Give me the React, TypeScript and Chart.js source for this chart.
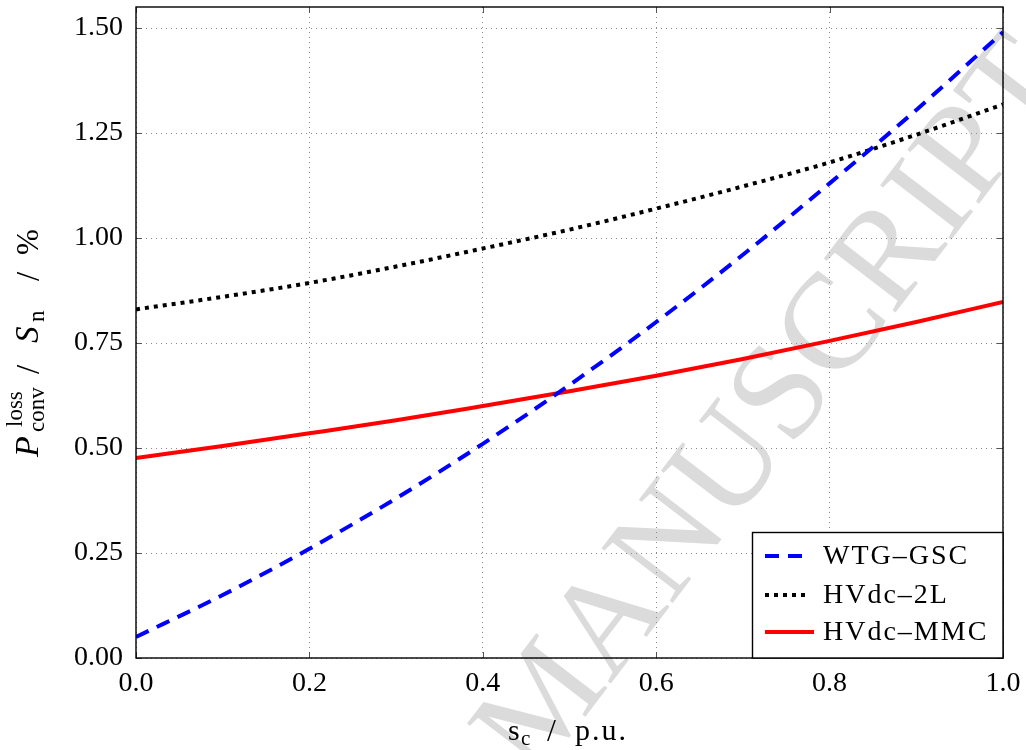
import React, { useEffect, useRef } from "react";
import { Chart, registerables } from "chart.js";

Chart.register(...registerables);

const xValues = [0, 0.1, 0.2, 0.3, 0.4, 0.5, 0.6, 0.7, 0.8, 0.9, 1.0];
const wtgGsc = [0.05, 0.15, 0.26, 0.38, 0.51, 0.65, 0.8, 0.96, 1.13, 1.305, 1.49];
const hvdc2L = [0.83, 0.86, 0.893, 0.932, 0.975, 1.02, 1.07, 1.123, 1.18, 1.246, 1.318];
const hvdcMmc = [0.476, 0.505, 0.535, 0.566, 0.6, 0.635, 0.672, 0.712, 0.755, 0.8, 0.848];
const seriesNames = ["WTG–GSC", "HVdc–2L", "HVdc–MMC"];
const xTickStep = 0.2;
const yTickStep = 0.25;

const FONT = '"Liberation Serif", "Times New Roman", serif';

const toPts = (ys: number[]) => ys.map((y, i) => ({ x: xValues[i], y }));

const decorPlugin = {
  id: "decor",
  beforeDraw(chart: any) {
    const ctx = chart.ctx;
    ctx.save();
    ctx.fillStyle = "#ffffff";
    ctx.fillRect(0, 0, chart.width, chart.height);
    // watermark
    ctx.translate(776, 409);
    ctx.rotate((-52.5 * Math.PI) / 180);
    ctx.fillStyle = "rgb(219,219,219)";
    ctx.font = `137px ${FONT}`;
    ctx.textAlign = "center";
    ctx.textBaseline = "middle";
    ctx.fillText("MANUSCRIPT", 0, 0);
    ctx.restore();
  },
  afterDatasetsDraw(chart: any) {
    const ctx = chart.ctx;
    const a = chart.chartArea;
    const xs = chart.scales.x;
    const ys = chart.scales.y;
    ctx.save();
    // inner tick marks
    ctx.strokeStyle = "#555";
    ctx.lineWidth = 1;
    ctx.beginPath();
    xs.ticks.forEach((t: any) => {
      const px = Math.round(xs.getPixelForValue(t.value)) + 0.5;
      ctx.moveTo(px, a.bottom);
      ctx.lineTo(px, a.bottom - 6);
      ctx.moveTo(px, a.top);
      ctx.lineTo(px, a.top + 6);
    });
    ys.ticks.forEach((t: any) => {
      const py = Math.round(ys.getPixelForValue(t.value)) + 0.5;
      ctx.moveTo(a.left, py);
      ctx.lineTo(a.left + 6, py);
      ctx.moveTo(a.right, py);
      ctx.lineTo(a.right - 6, py);
    });
    ctx.stroke();
    // frame
    ctx.strokeStyle = "#000";
    ctx.lineWidth = 1.4;
    ctx.strokeRect(a.left, a.top, a.right - a.left, a.bottom - a.top);

    // legend
    const bx = 752.5, by = 532.5, bw = a.right - 752.5, bh = a.bottom - 532.5;
    ctx.fillStyle = "#fff";
    ctx.fillRect(bx, by, bw, bh);
    ctx.strokeStyle = "#000";
    ctx.lineWidth = 1.4;
    ctx.strokeRect(bx, by, bw, bh);
    const rows = [556, 595, 632];
    const ds = chart.data.datasets;
    rows.forEach((ry: number, i: number) => {
      const d = ds[i];
      ctx.save();
      ctx.strokeStyle = d.borderColor;
      ctx.lineWidth = d.borderWidth;
      ctx.setLineDash(d.borderDash || []);
      ctx.beginPath();
      ctx.moveTo(765, ry);
      ctx.lineTo(i === 2 ? 814 : 810, ry);
      ctx.stroke();
      ctx.restore();
      ctx.fillStyle = "#000";
      ctx.font = `28px ${FONT}`;
      (ctx as any).letterSpacing = "2px";
      ctx.textAlign = "left";
      ctx.textBaseline = "middle";
      ctx.fillText(seriesNames[i], 823, ry + 1);
      (ctx as any).letterSpacing = "0px";
    });
    ctx.restore();
  },
  afterDraw(chart: any) {
    const ctx = chart.ctx;
    ctx.save();
    ctx.fillStyle = "#000";
    ctx.textBaseline = "alphabetic";
    ctx.textAlign = "left";
    // x title: s_c / p.u.
    const by = 740;
    ctx.font = `30px ${FONT}`;
    ctx.fillText("s", 508, by);
    ctx.font = `21px ${FONT}`;
    ctx.fillText("c", 521, by + 5);
    ctx.font = `32px ${FONT}`;
    ctx.fillText("/", 547, by + 1);
    ctx.font = `30px ${FONT}`;
    (ctx as any).letterSpacing = "2px";
    ctx.fillText("p.u.", 575, by);
    (ctx as any).letterSpacing = "0px";

    // y title: P_conv^loss / S_n / %
    ctx.translate(38, 457);
    ctx.rotate(-Math.PI / 2);
    ctx.font = `italic 34px ${FONT}`;
    ctx.fillText("P", 0, 0);
    ctx.font = `23px ${FONT}`;
    ctx.fillText("loss", 30, -16);
    ctx.fillText("conv", 25, 6);
    ctx.font = `33px ${FONT}`;
    ctx.fillText("/", 83, 1);
    ctx.font = `italic 33px ${FONT}`;
    ctx.fillText("S", 114, 0);
    ctx.font = `23px ${FONT}`;
    ctx.fillText("n", 135, 6);
    ctx.font = `33px ${FONT}`;
    ctx.fillText("/", 176, 1);
    ctx.font = `31px ${FONT}`;
    ctx.fillText("%", 202, 0);
    ctx.restore();
  },
};

const zeroPad = (s: any) => {
  s.paddingTop = 0;
  s.paddingBottom = 0;
  s.paddingLeft = 0;
  s.paddingRight = 0;
};

export default function App() {
  const ref = useRef<HTMLCanvasElement | null>(null);
  useEffect(() => {
    if (!ref.current) return;
    const chart = new Chart(ref.current, {
      type: "line",
      data: {
        datasets: [
          {
            label: seriesNames[0],
            data: toPts(wtgGsc),
            borderColor: "#0000ff",
            borderWidth: 4,
            borderDash: [14, 9],
            pointRadius: 0,
            cubicInterpolationMode: "monotone",
          },
          {
            label: seriesNames[1],
            data: toPts(hvdc2L),
            borderColor: "#000000",
            borderWidth: 4,
            borderDash: [4, 5],
            pointRadius: 0,
            cubicInterpolationMode: "monotone",
          },
          {
            label: seriesNames[2],
            data: toPts(hvdcMmc),
            borderColor: "#ff0000",
            borderWidth: 4,
            pointRadius: 0,
            cubicInterpolationMode: "monotone",
          },
        ],
      },
      options: {
        animation: false,
        responsive: false,
        maintainAspectRatio: false,
        layout: { padding: { top: 7, right: 23, left: 0, bottom: 0 } },
        plugins: { legend: { display: false }, tooltip: { enabled: false } },
        scales: {
          x: {
            type: "linear",
            min: 0,
            max: 1,
            border: { display: false, dash: [1, 4] },
            grid: { color: "#8a8a8a", lineWidth: 1, drawTicks: false },
            ticks: {
              stepSize: xTickStep,
              includeBounds: false,
              padding: 9,
              color: "#000",
              font: { family: FONT, size: 28 },
              maxRotation: 0,
              autoSkip: false,
              callback: (v: any) => Number(v).toFixed(1),
            },
            afterFit: (s: any) => {
              s.height = 92;
              zeroPad(s);
            },
          },
          y: {
            type: "linear",
            min: 0,
            max: 1.55,
            border: { display: false, dash: [1, 4] },
            grid: { color: "#8a8a8a", lineWidth: 1, drawTicks: false },
            ticks: {
              stepSize: yTickStep,
              includeBounds: false,
              padding: 13,
              color: "#000",
              autoSkip: false,
              font: { family: FONT, size: 28 },
              callback: (v: any) => Number(v).toFixed(2),
            },
            afterFit: (s: any) => {
              s.width = 136;
              zeroPad(s);
            },
          },
        },
      },
      plugins: [decorPlugin],
    } as any);
    return () => chart.destroy();
  }, []);
  return (
    <div style={{ position: "fixed", left: 0, top: 0, width: 1026, height: 750 }}>
      <canvas ref={ref} width={1026} height={750} style={{ width: 1026, height: 750 }} />
    </div>
  );
}
